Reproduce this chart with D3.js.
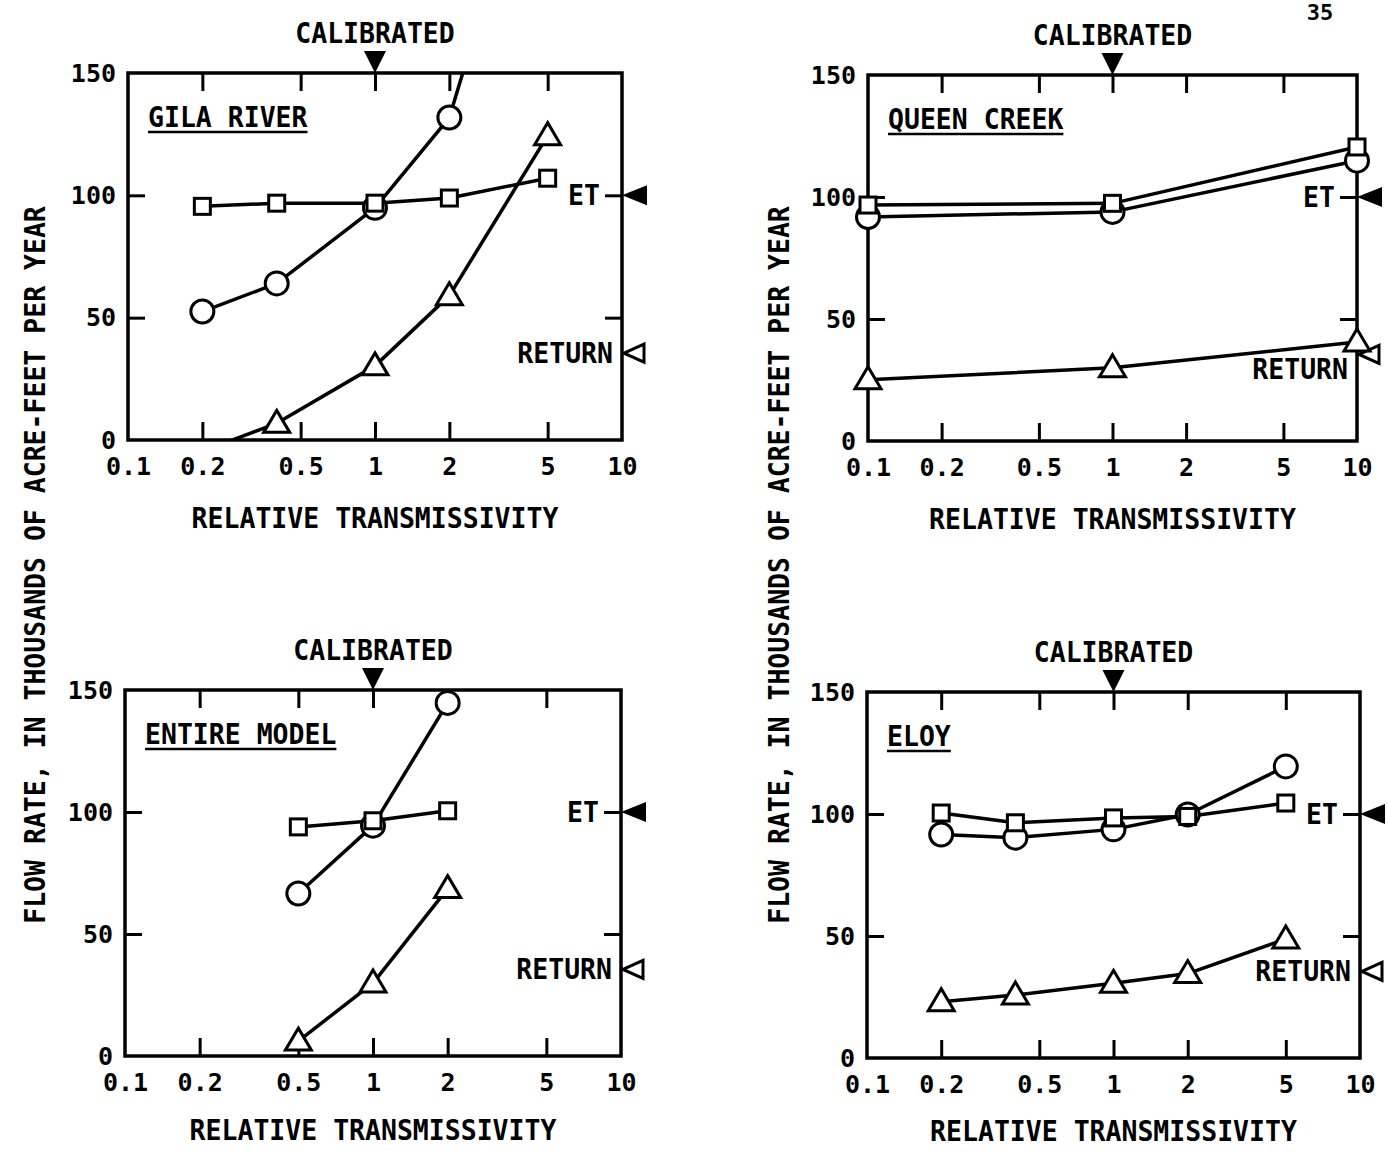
<!DOCTYPE html>
<html>
<head>
<meta charset="utf-8">
<script src="https://cdn.jsdelivr.net/npm/d3@7"></script>
<style>
  html, body { margin: 0; padding: 0; background: #fff; }
  svg { display: block; }
  text { font-family: "DejaVu Sans Mono", "Liberation Mono", monospace; fill: #000; font-weight: bold; }
</style>
</head>
<body>
<svg id="chart" width="1388" height="1151"></svg>
<script>
// ---------- data ----------
const panelNames = ["GILA RIVER", "QUEEN CREEK", "ENTIRE MODEL", "ELOY"];
const xTickLabels = [0.1, 0.2, 0.5, 1, 2, 5, 10];
const xInnerTicks = [0.2, 0.5, 1, 2, 5];
const yTickLabels = [0, 50, 100, 150];
const yInnerTicks = [50, 100];
const calibratedValue = 1;
const etLevel = 100;
const returnLevel = 35.5;

const gilaX        = [0.2, 0.4, 1, 2, 5];
const gilaSquare   = [95.5, 96.8, 96.8, 98.9, 107];
const gilaCircle   = [52.5, 64, 94.9, 131.8, 265];
const gilaTriangle = [-4.6, 6.8, 30.3, 59, 124.4];

const queenX        = [0.1, 1, 10];
const queenSquare   = [96.7, 97.4, 120.5];
const queenCircle   = [91.8, 93.9, 114.9];
const queenTriangle = [25.1, 30, 40.6];

const entireX        = [0.5, 1, 2];
const entireSquare   = [93.9, 96.4, 100.5];
const entireCircle   = [66.6, 94.4, 144.7];
const entireTriangle = [6.1, 29.9, 68.6];

const eloyX        = [0.2, 0.4, 1, 2, 5];
const eloySquare   = [100.4, 96.4, 98.4, 99, 104.5];
const eloyCircle   = [91.6, 90.3, 93.7, 99.8, 119.5];
const eloyTriangle = [23.1, 25.8, 30.6, 34.6, 48.8];

const panelData = [
  { x: gilaX,   square: gilaSquare,   circle: gilaCircle,   triangle: gilaTriangle },
  { x: queenX,  square: queenSquare,  circle: queenCircle,  triangle: queenTriangle },
  { x: entireX, square: entireSquare, circle: entireCircle, triangle: entireTriangle },
  { x: eloyX,   square: eloySquare,   circle: eloyCircle,   triangle: eloyTriangle }
];

// ---------- layout ----------
const frames = [
  { l: 128, r: 622, t: 73,  b: 440, titleGap: 88, retLabelBelow: false },
  { l: 868, r: 1357, t: 75, b: 441, titleGap: 88, retLabelBelow: true },
  { l: 125, r: 621, t: 690, b: 1056, titleGap: 84, retLabelBelow: false },
  { l: 867, r: 1360, t: 692, b: 1058, titleGap: 83, retLabelBelow: false }
];

const svg = d3.select("#chart");
const fmt = d => String(d);
const TXT = 26.5;
const STRETCH = 1.1;

// text helper: tall typewriter look via vertical stretch
function label(parent, x, y, str, anchor, size) {
  return parent.append("text")
    .attr("transform", `translate(${x},${y}) scale(1,${STRETCH})`)
    .attr("text-anchor", anchor || "start")
    .attr("font-size", size || TXT)
    .text(str);
}

frames.forEach((f, i) => {
  const d = panelData[i];
  const x = d3.scaleLog().domain([0.1, 10]).range([f.l, f.r]);
  const y = d3.scaleLinear().domain([0, 150]).range([f.b, f.t]);
  const g = svg.append("g");
  const clipId = "clip" + i;
  svg.append("clipPath").attr("id", clipId)
    .append("rect").attr("x", f.l).attr("y", f.t).attr("width", f.r - f.l).attr("height", f.b - f.t);

  // inward ticks
  const tickStyle = sel => { sel.select(".domain").remove(); sel.selectAll("line").attr("stroke", "#000").attr("stroke-width", 3); };
  g.append("g").attr("transform", `translate(0,${f.b})`)
    .call(d3.axisBottom(x).tickValues(xInnerTicks).tickSizeInner(-18).tickSizeOuter(0).tickFormat(""))
    .call(tickStyle);
  g.append("g").attr("transform", `translate(0,${f.t})`)
    .call(d3.axisTop(x).tickValues(xInnerTicks).tickSizeInner(-18).tickSizeOuter(0).tickFormat(""))
    .call(tickStyle);
  g.append("g").attr("transform", `translate(${f.l},0)`)
    .call(d3.axisLeft(y).tickValues(yInnerTicks).tickSizeInner(-17).tickSizeOuter(0).tickFormat(""))
    .call(tickStyle);
  g.append("g").attr("transform", `translate(${f.r},0)`)
    .call(d3.axisRight(y).tickValues(yInnerTicks).tickSizeInner(-17).tickSizeOuter(0).tickFormat(""))
    .call(tickStyle);

  // tick labels
  const lab = g.append("g").attr("transform", `translate(0,${f.b})`)
    .call(d3.axisBottom(x).tickValues(xTickLabels).tickSize(0).tickPadding(17).tickFormat(fmt));
  lab.select(".domain").remove();
  lab.selectAll("text").attr("font-size", 25).attr("font-family", "DejaVu Sans Mono").attr("font-weight", "bold");
  const ylab = g.append("g").attr("transform", `translate(${f.l},0)`)
    .call(d3.axisLeft(y).tickValues(yTickLabels).tickSize(0).tickPadding(12).tickFormat(fmt));
  ylab.select(".domain").remove();
  ylab.selectAll("text").attr("font-size", 25).attr("font-family", "DejaVu Sans Mono").attr("font-weight", "bold");

  // frame
  g.append("rect").attr("x", f.l).attr("y", f.t).attr("width", f.r - f.l).attr("height", f.b - f.t)
    .attr("fill", "none").attr("stroke", "#000").attr("stroke-width", 3.5);

  // x title
  label(g, (f.l + f.r) / 2, f.b + f.titleGap, "RELATIVE TRANSMISSIVITY", "middle");

  // calibrated
  const cx = x(calibratedValue);
  label(g, cx, f.t - 30, "CALIBRATED", "middle");
  g.append("path").attr("d", `M${cx - 11},${f.t - 22}L${cx + 11},${f.t - 22}L${cx},${f.t}Z`).attr("fill", "#000");

  // panel label
  const pl = label(g, f.l + 20, f.t + 54, panelNames[i], "start");
  const w = pl.node().getComputedTextLength();
  g.append("line").attr("x1", f.l + 20).attr("x2", f.l + 20 + w).attr("y1", f.t + 59).attr("y2", f.t + 59)
    .attr("stroke", "#000").attr("stroke-width", 2.5);

  // ET marker
  const ey = y(etLevel);
  g.append("path").attr("d", `M${f.r},${ey}L${f.r + 25},${ey - 10}L${f.r + 25},${ey + 10}Z`).attr("fill", "#000");
  label(g, f.r - 22, ey + 10, "ET", "end");

  // RETURN marker
  const ry = y(returnLevel);
  g.append("path").attr("d", `M${f.r + 2},${ry}L${f.r + 22},${ry - 9}L${f.r + 22},${ry + 9}Z`)
    .attr("fill", "#fff").attr("stroke", "#000").attr("stroke-width", 3).attr("stroke-linejoin", "miter");
  label(g, f.r - 9, f.retLabelBelow ? ry + 25 : ry + 10, "RETURN", "end");

  // series lines
  const series = ["square", "circle", "triangle"];
  const line = d3.line().x(p => x(p[0])).y(p => y(p[1]));
  const plot = g.append("g").attr("clip-path", `url(#${clipId})`);
  series.forEach(s => {
    const pts = d.x.map((xv, k) => [xv, d[s][k]]);
    plot.append("path").attr("d", line(pts)).attr("fill", "none").attr("stroke", "#000")
      .attr("stroke-width", 3.5).attr("stroke-linejoin", "round");
  });
  // markers (only inside the value range)
  const mk = g.append("g");
  const inRange = v => v >= 0 && v <= 150;
  ["circle", "square", "triangle"].forEach(s => {
    d.x.forEach((xv, k) => {
      const v = d[s][k];
      if (!inRange(v)) return;
      const px = x(xv), py = y(v);
      if (s === "circle") {
        mk.append("circle").attr("cx", px).attr("cy", py).attr("r", 11.5)
          .attr("fill", "#fff").attr("stroke", "#000").attr("stroke-width", 3);
      } else if (s === "square") {
        mk.append("rect").attr("x", px - 8).attr("y", py - 8).attr("width", 16).attr("height", 16)
          .attr("fill", "#fff").attr("stroke", "#000").attr("stroke-width", 3);
      } else {
        mk.append("path").attr("d", `M${px},${py - 13}L${px + 13},${py + 9}L${px - 13},${py + 9}Z`)
          .attr("fill", "#fff").attr("stroke", "#000").attr("stroke-width", 3);
      }
    });
  });
});

// y-axis titles
const yTitle = "FLOW RATE, IN THOUSANDS OF ACRE-FEET PER YEAR";
[35, 779].forEach(xx => {
  svg.append("text").attr("transform", `translate(${xx},565) rotate(-90) scale(1,${STRETCH})`).attr("text-anchor", "middle")
    .attr("dominant-baseline", "central").attr("font-size", TXT).text(yTitle);
});

// page number
svg.append("text").attr("x", 1320).attr("y", 20).attr("text-anchor", "middle")
  .attr("font-family", "Liberation Sans").attr("font-weight", "normal").attr("font-size", 22).text("35");
</script>
</body>
</html>
